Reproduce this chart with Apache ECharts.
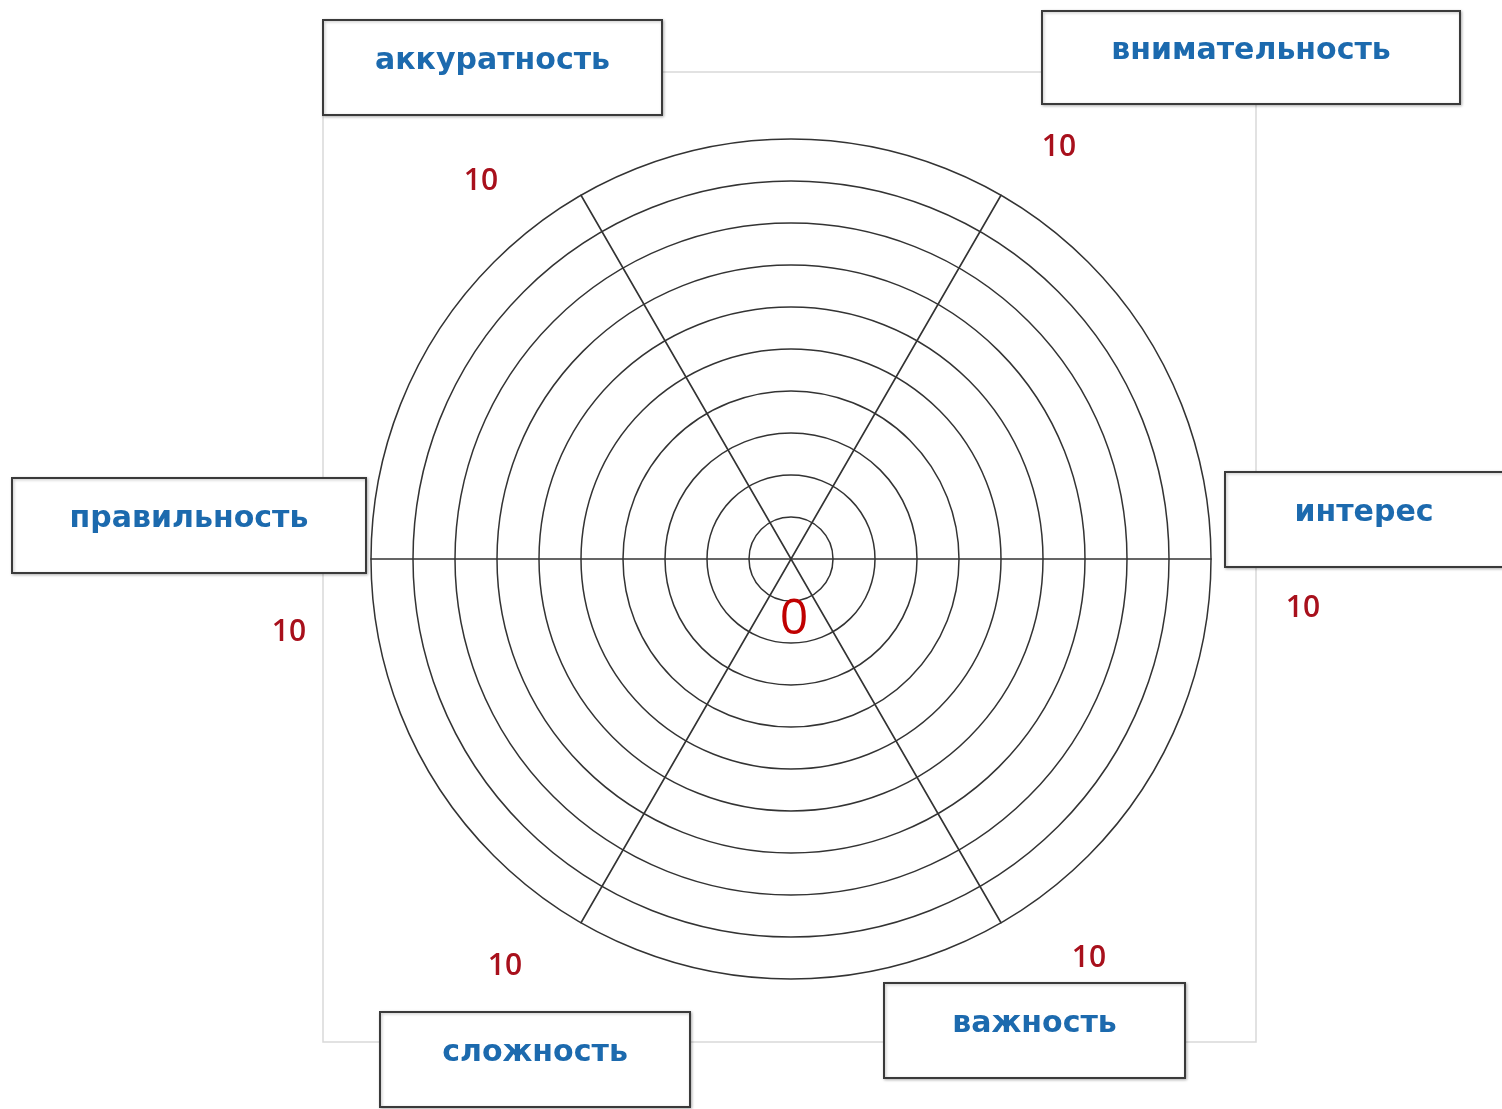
<!DOCTYPE html>
<html>
<head>
<meta charset="utf-8">
<title>radar</title>
<script src="https://cdn.jsdelivr.net/npm/echarts@6/dist/echarts.min.js"></script>
<style>
  html, body { margin: 0; padding: 0; background: #fff; }
  #chart { width: 1502px; height: 1109px; }
</style>
</head>
<body>
<div id="chart"></div>
<script>
// indicators, counter-clockwise from the right
var names = ['интерес', 'внимательность', 'аккуратность', 'правильность', 'сложность', 'важность'];
var maxValue = 10;
var rings = 10;
var maxLabel = '10';
var zeroLabel = '0';

var chart = echarts.init(document.getElementById('chart'));

// label boxes: [x, y, w, h] around each indicator name (same order as names)
var boxes = [
  [1225, 472, 290, 95],
  [1042, 11, 418, 93],
  [323, 20, 339, 95],
  [12, 478, 354, 95],
  [380, 1012, 310, 95],
  [884, 983, 301, 95]
];
// where the red "10" sits for each axis
var tenPos = [[1303, 608], [1059, 147], [481, 181], [289, 632], [505, 966], [1089, 958]];

var graphics = [{
  type: 'rect',
  shape: { x: 323, y: 72, width: 933, height: 970 },
  style: { fill: 'none', stroke: '#d9d9d9', lineWidth: 1.5 },
  z: 0
}];

for (var i = 0; i < names.length; i++) {
  var b = boxes[i];
  graphics.push({
    type: 'rect',
    shape: { x: b[0], y: b[1], width: b[2], height: b[3] },
    style: {
      fill: '#fff', stroke: '#3a3a3a', lineWidth: 2,
      shadowColor: 'rgba(0,0,0,0.25)', shadowBlur: 3, shadowOffsetX: 1, shadowOffsetY: 1
    },
    z: 10
  });
  graphics.push({
    type: 'text',
    x: b[0] + b[2] / 2 - (i === 0 ? 6 : 0),
    y: b[1] + b[3] / 2 - 6,
    style: {
      text: names[i], fill: '#1c6aae',
      font: 'bold 30px "DejaVu Sans"', align: 'center', verticalAlign: 'middle'
    },
    z: 11
  });
  graphics.push({
    type: 'text',
    x: tenPos[i][0], y: tenPos[i][1],
    style: {
      text: maxLabel, fill: '#a8101c',
      font: '600 30px "Open Sans"', align: 'center', verticalAlign: 'middle'
    },
    z: 11
  });
}
graphics.push({
  type: 'text',
  x: 794, y: 620,
  style: {
    text: zeroLabel, fill: '#c00000',
    font: '500 50px "Open Sans"', align: 'center', verticalAlign: 'middle'
  },
  z: 11
});

var option = {
  animation: false,
  backgroundColor: '#fff',
  radar: {
    center: [791, 559],
    radius: 420,
    startAngle: 0,
    shape: 'circle',
    splitNumber: rings,
    indicator: names.map(function (n) { return { name: n, max: maxValue, min: 0 }; }),
    axisName: { show: false },
    axisLine: { lineStyle: { color: '#333', width: 1.6 } },
    splitLine: { lineStyle: { color: '#333', width: 1.5 } },
    splitArea: { show: false }
  },
  graphic: graphics,
  series: [{ type: 'radar', data: [] }]
};

chart.setOption(option);
</script>
</body>
</html>
